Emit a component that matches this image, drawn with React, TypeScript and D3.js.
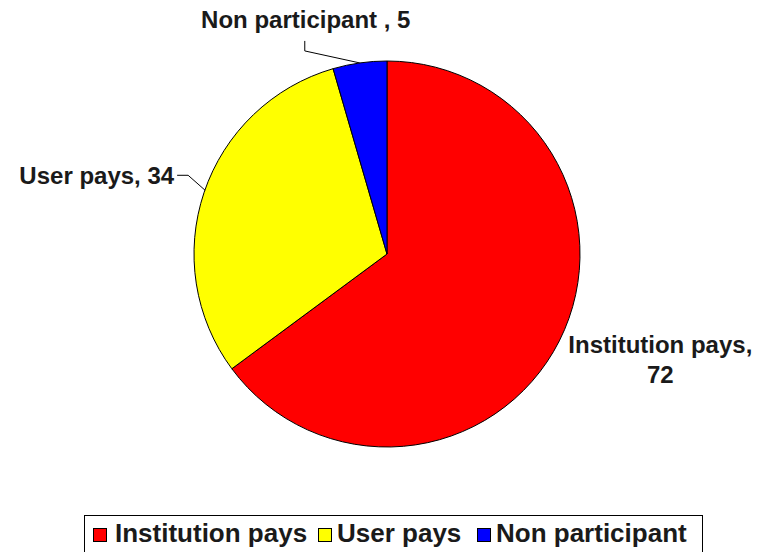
import { useEffect, useRef } from 'react';
import * as d3 from 'd3';

const categories = ['Institution pays', 'User pays', 'Non participant'];
const values = [72, 34, 5];
const sliceLabels = ['Institution pays, 72', 'User pays, 34', 'Non participant , 5'];
const colors = ['#ff0000', '#ffff00', '#0000ff'];

export default function App() {
  const svgRef = useRef<SVGSVGElement>(null);

  useEffect(() => {
    if (!svgRef.current) return;
    const width = 760;
    const height = 552;
    const cx = 387;
    const cy = 254;
    const radius = 193;

    d3.select(svgRef.current).selectAll('*').remove();

    const svg = d3.select(svgRef.current)
      .attr('width', width)
      .attr('height', height)
      .style('font-family', 'Liberation Sans, Arial, sans-serif');

    const data = categories.map((c, i) => ({ name: c, value: values[i], label: sliceLabels[i], color: colors[i] }));

    const pie = d3.pie<any>().value(d => d.value).sort(null);
    const arc = d3.arc<any>().innerRadius(0).outerRadius(radius);
    const arcs = pie(data);

    const g = svg.append('g').attr('transform', `translate(${cx},${cy})`);

    g.selectAll('path')
      .data(arcs)
      .enter()
      .append('path')
      .attr('d', arc)
      .attr('fill', d => d.data.color)
      .attr('stroke', '#000')
      .attr('stroke-width', 1);

    // point on the rim at mid-angle
    const rim = (a: any, r: number) => {
      const m = (a.startAngle + a.endAngle) / 2;
      return [Math.sin(m) * r, -Math.cos(m) * r];
    };

    const labelFont = '24px';

    // Institution pays label (two lines, no leader)
    const [ix, iy] = rim(arcs[0], radius);
    const inst = g.append('text')
      .attr('text-anchor', 'middle')
      .style('font-size', labelFont)
      .style('font-weight', 'bold')
      .attr('fill', '#1a1a1a');
    inst.append('tspan').attr('x', ix + 101).attr('y', iy + 12).text('Institution pays,');
    inst.append('tspan').attr('x', ix + 101).attr('y', iy + 42).text(String(values[0]));

    // User pays label with leader
    const [ux, uy] = rim(arcs[1], radius);
    g.append('path')
      .attr('d', `M${ux + 1},${uy - 2}L${ux - 16},${uy - 17}L${ux - 27},${uy - 17}`)
      .attr('fill', 'none')
      .attr('stroke', '#000');
    g.append('text')
      .attr('x', ux - 30)
      .attr('y', uy - 8)
      .attr('text-anchor', 'end')
      .style('font-size', labelFont)
      .style('font-weight', 'bold')
      .attr('fill', '#1a1a1a')
      .text(sliceLabels[1]);

    // Non participant label with leader
    const [nx, ny] = rim(arcs[2], radius);
    g.append('path')
      .attr('d', `M${nx},${ny}L${nx - 55},${ny - 12}L${nx - 55},${ny - 22}`)
      .attr('fill', 'none')
      .attr('stroke', '#000');
    g.append('text')
      .attr('x', nx - 54)
      .attr('y', ny - 35)
      .attr('text-anchor', 'middle')
      .style('font-size', labelFont)
      .style('font-weight', 'bold')
      .attr('fill', '#1a1a1a')
      .text(sliceLabels[2]);

    // Legend
    const legend = svg.append('g');
    legend.append('rect')
      .attr('x', 84.5)
      .attr('y', 515.5)
      .attr('width', 618)
      .attr('height', 40)
      .attr('fill', '#fff')
      .attr('stroke', '#000');

    const itemX = [93, 318, 477];
    const textX = [115, 337, 496];
    data.forEach((d, i) => {
      legend.append('rect')
        .attr('x', itemX[i] + 0.5)
        .attr('y', 528.5)
        .attr('width', 13)
        .attr('height', 13)
        .attr('fill', d.color)
        .attr('stroke', '#000');
      legend.append('text')
        .attr('x', textX[i])
        .attr('y', 542)
        .style('font-size', '26px')
        .style('font-weight', 'bold')
        .attr('fill', '#1a1a1a')
        .text(d.name);
    });
  }, []);

  return (
    <div style={{ position: 'absolute', left: 0, top: 0 }}>
      <svg ref={svgRef}></svg>
    </div>
  );
}
